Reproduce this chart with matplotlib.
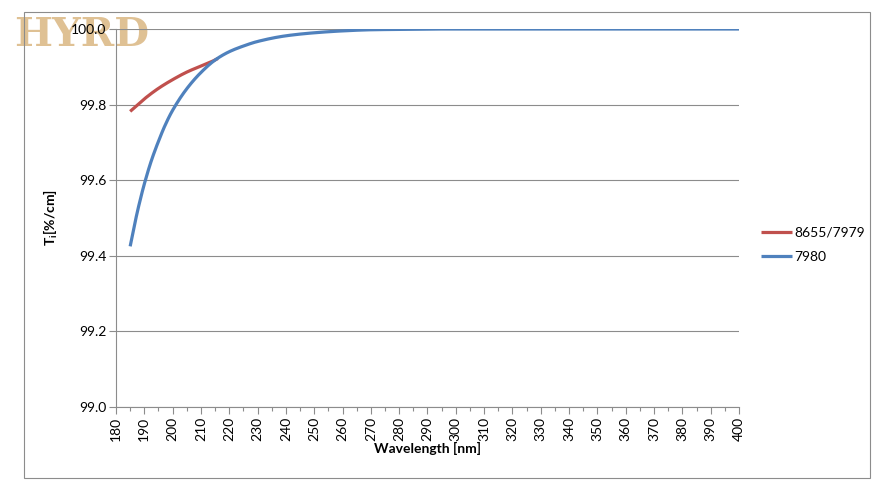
import matplotlib
matplotlib.use("Agg")
import matplotlib.pyplot as plt
from matplotlib.patches import Rectangle
import numpy as np

plt.rcParams['font.family'] = ['Lato', 'DejaVu Sans']

wl_red = [185, 190, 195, 200, 205, 210, 213, 216]
t_red = [99.782, 99.815, 99.843, 99.866, 99.886, 99.902, 99.911, 99.922]

wl_blue = [185, 187.5, 190, 192.5, 195, 197.5, 200, 205, 210, 215, 220, 225, 230, 240, 250, 260, 270, 280, 290, 300, 350, 400]
t_blue = [99.425, 99.515, 99.59, 99.652, 99.703, 99.748, 99.785, 99.842, 99.885, 99.918, 99.94, 99.955, 99.967, 99.982, 99.99, 99.995, 99.998, 99.999, 100.0, 100.0, 100.0, 100.0]

series_names = ["8655/7979", "7980"]
xticks = list(range(180, 401, 10))
yticks = [99.0, 99.2, 99.4, 99.6, 99.8, 100.0]


def pchip(x, y, n=500):
    x = np.asarray(x, float)
    y = np.asarray(y, float)
    h = np.diff(x)
    d = np.diff(y) / h
    m = np.zeros_like(y)
    for k in range(1, len(x) - 1):
        if d[k - 1] * d[k] <= 0:
            m[k] = 0.0
        else:
            w1 = 2 * h[k] + h[k - 1]
            w2 = h[k] + 2 * h[k - 1]
            m[k] = (w1 + w2) / (w1 / d[k - 1] + w2 / d[k])
    m[0] = d[0]
    m[-1] = d[-1]
    xs = np.linspace(x[0], x[-1], n)
    idx = np.clip(np.searchsorted(x, xs) - 1, 0, len(x) - 2)
    t = (xs - x[idx]) / h[idx]
    h00 = 2 * t**3 - 3 * t**2 + 1
    h10 = t**3 - 2 * t**2 + t
    h01 = -2 * t**3 + 3 * t**2
    h11 = t**3 - t**2
    ys = h00 * y[idx] + h10 * h[idx] * m[idx] + h01 * y[idx + 1] + h11 * h[idx] * m[idx + 1]
    return xs, ys


fig = plt.figure(figsize=(8.87, 4.83), dpi=100)
ax = fig.add_axes([116/887, 1-407/483, (739-116)/887, (407-29)/483])
ax.patch.set_alpha(0)

xr, yr = pchip(wl_red, t_red)
xb, yb = pchip(wl_blue, t_blue)
l1, = ax.plot(xr, yr, color='#c0504d', lw=2.3, solid_capstyle='butt', label=series_names[0])
l2, = ax.plot(xb, yb, color='#4f81bd', lw=2.3, solid_capstyle='butt', label=series_names[1])

ax.set_xlim(180, 400)
ax.set_ylim(99.0, 100.0)
ax.set_xticks(xticks)
ax.set_xticks(list(range(185, 400, 10)), minor=True)
ax.set_xticklabels([str(v) for v in xticks], rotation=90, fontsize=10)
ax.set_yticks(yticks)
ax.set_yticklabels([f"{v:.1f}" for v in yticks], fontsize=10)
ax.grid(axis='y', color='#8c8c8c', lw=0.8)
ax.set_axisbelow(True)
for s in ['top', 'right']:
    ax.spines[s].set_visible(False)
for s in ['left', 'bottom']:
    ax.spines[s].set_color('#8c8c8c')
    ax.spines[s].set_linewidth(0.8)
ax.tick_params(axis='both', which='major', color='#8c8c8c', length=5, width=0.8, pad=2)
ax.tick_params(axis='x', which='minor', color='#8c8c8c', length=3, width=0.8)
ax.set_xlabel("Wavelength [nm]", fontsize=10, fontweight='bold', labelpad=1)
ax.set_ylabel("T$_\\mathregular{i}$[%/cm]", fontsize=10, fontweight='bold', labelpad=8)

leg = fig.legend(handles=[l1, l2], loc='center left', bbox_to_anchor=(749/887, 1-245/483),
                 frameon=False, fontsize=10, handlelength=2.2, handletextpad=0.15, labelspacing=0.9)

fig.patches.append(Rectangle((24/887, 1-478/483), (870-24)/887, (478-12)/483,
                             transform=fig.transFigure, fill=False, edgecolor='#8c8c8c', lw=0.8))

fig.text(14/887, 1-35/483, "HYRD", fontsize=29, fontweight='bold', family='DejaVu Serif',
         color='#d8b27a', alpha=0.8, va='center', ha='left', zorder=-1)

fig.savefig("out.png", dpi=100)
